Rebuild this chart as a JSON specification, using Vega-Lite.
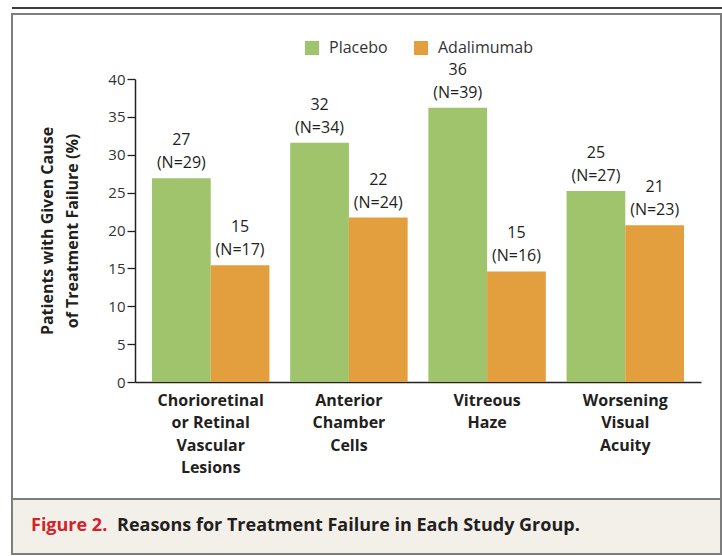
{
  "$schema": "https://vega.github.io/schema/vega-lite/v6.json",
  "padding": {"left": 11, "top": 7, "right": 0, "bottom": 0},
  "background": "white",
  "config": {"view": {"stroke": null}, "font": "Open Sans"},
  "spacing": 5,
  "bounds": "flush",
  "resolve": {"scale": {"color": "independent", "x": "independent"}, "legend": {"color": "independent"}},
  "vconcat": [
    {
      "width": 711,
      "height": 2,
      "view": {"fill": "#3d3d3d", "stroke": null},
      "data": {"values": []},
      "mark": "rect",
      "encoding": {}
    },
    {
      "spacing": 0,
      "bounds": "flush",
      "resolve": {"scale": {"color": "independent", "x": "independent"}, "legend": {"color": "independent"}},
      "vconcat": [
        {
          "width": 709,
          "height": 485,
          "view": {"fill": "white", "stroke": "#7d7d7d", "strokeWidth": 2},
          "data": {
            "values": [
              {"reason": "Chorioretinal|or Retinal|Vascular|Lesions", "group": "Placebo", "pct": 26.9, "label": ["27", "(N=29)"]},
              {"reason": "Chorioretinal|or Retinal|Vascular|Lesions", "group": "Adalimumab", "pct": 15.4, "label": ["15", "(N=17)"]},
              {"reason": "Anterior|Chamber|Cells", "group": "Placebo", "pct": 31.6, "label": ["32", "(N=34)"]},
              {"reason": "Anterior|Chamber|Cells", "group": "Adalimumab", "pct": 21.7, "label": ["22", "(N=24)"]},
              {"reason": "Vitreous|Haze", "group": "Placebo", "pct": 36.2, "label": ["36", "(N=39)"]},
              {"reason": "Vitreous|Haze", "group": "Adalimumab", "pct": 14.6, "label": ["15", "(N=16)"]},
              {"reason": "Worsening|Visual|Acuity", "group": "Placebo", "pct": 25.2, "label": ["25", "(N=27)"]},
              {"reason": "Worsening|Visual|Acuity", "group": "Adalimumab", "pct": 20.7, "label": ["21", "(N=23)"]}
            ]
          },
          "encoding": {
            "x": {
              "field": "reason",
              "type": "nominal",
              "sort": null,
              "scale": {"range": [123, 689], "paddingInner": 0.15, "paddingOuter": 0.123},
              "axis": {
                "title": null,
                "offset": -117,
                "labelExpr": "split(datum.label, '|')",
                "labelAngle": 0,
                "ticks": false,
                "tickSize": 0,
                "labelPadding": 10,
                "labelFontSize": 16,
                "labelFontWeight": "bold",
                "labelColor": "#231f20",
                "labelLineHeight": 22.5,
                "labelBaseline": "top",
                "domainColor": "#222222",
                "domainWidth": 1.5
              }
            },
            "xOffset": {
              "field": "group",
              "type": "nominal",
              "sort": ["Placebo", "Adalimumab"],
              "scale": {"paddingInner": 0, "paddingOuter": 0}
            },
            "y": {
              "field": "pct",
              "type": "quantitative",
              "scale": {"domain": [0, 40], "nice": false, "range": [368, 65]},
              "axis": {
                "title": ["Patients with Given Cause", "of Treatment Failure (%)"],
                "offset": -123,
                "values": [0, 5, 10, 15, 20, 25, 30, 35, 40],
                "grid": false,
                "tickSize": 8,
                "tickWidth": 1.3,
                "tickColor": "#222222",
                "labelPadding": 2,
                "labelFontSize": 15,
                "labelColor": "#333333",
                "domainColor": "#222222",
                "domainWidth": 1.5,
                "titleFontSize": 16,
                "titleFontWeight": "bold",
                "titleColor": "#231f20",
                "titleLineHeight": 25,
                "titlePadding": 27
              }
            }
          },
          "layer": [
            {
              "mark": {"type": "bar"},
              "encoding": {
                "color": {
                  "field": "group",
                  "type": "nominal",
                  "sort": ["Placebo", "Adalimumab"],
                  "scale": {"domain": ["Placebo", "Adalimumab"], "range": ["#a0c46b", "#e39e3d"]},
                  "legend": {
                    "title": null,
                    "orient": "none",
                    "direction": "horizontal",
                    "legendX": 292,
                    "legendY": 26,
                    "symbolType": "square",
                    "symbolSize": 196,
                    "symbolStrokeWidth": 0,
                    "symbolOpacity": 1,
                    "labelFontSize": 16,
                    "labelColor": "#333333",
                    "labelOffset": 9,
                    "columnPadding": 25
                  }
                }
              }
            },
            {
              "mark": {"type": "text", "baseline": "bottom", "lineHeight": 23, "dy": -30, "fontSize": 16, "color": "#231f20"},
              "encoding": {"text": {"field": "label"}}
            }
          ]
        },
        {
          "width": 709,
          "height": 55,
          "view": {"fill": "#f3f0ea", "stroke": "#7d7d7d", "strokeWidth": 2},
          "data": {
            "values": [
              {"part": "Figure 2."},
              {"part": "Reasons for Treatment Failure in Each Study Group."}
            ]
          },
          "mark": {"type": "text", "align": "left", "baseline": "alphabetic", "dy": 4, "fontSize": 18, "fontWeight": "bold"},
          "encoding": {
            "x": {
              "field": "part",
              "type": "nominal",
              "sort": null,
              "scale": {"type": "point", "range": [19, 105], "padding": 0},
              "axis": null
            },
            "text": {"field": "part"},
            "color": {
              "field": "part",
              "type": "nominal",
              "sort": null,
              "scale": {"domain": ["Figure 2.", "Reasons for Treatment Failure in Each Study Group."], "range": ["#d2232a", "#231f20"]},
              "legend": null
            }
          }
        }
      ]
    }
  ]
}
